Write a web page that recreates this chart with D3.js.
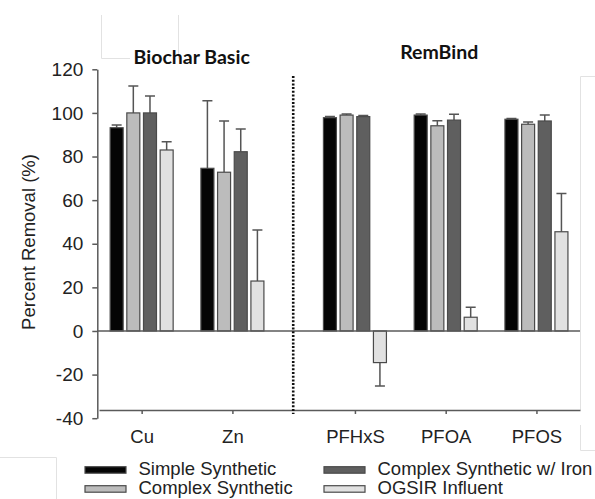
<!DOCTYPE html>
<html>
<head>
<meta charset="utf-8">
<script src="https://cdn.jsdelivr.net/npm/d3@7"></script>
<style>
  body { margin: 0; background: #fff; }
  svg { display: block; }
  .axis path, .axis line { stroke: #5a5a5a; stroke-width: 1.5; }
  .axis text { font-family: "Liberation Sans", Arial, sans-serif; fill: #222; }
</style>
</head>
<body>
<div id="chart"></div>
<script>
/* Percent removal by media and water type, with one-sided error bars. */

var categories = ["Cu", "Zn", "PFHxS", "PFOA", "PFOS"];
var catPositions = [1, 2, 3.35, 4.35, 5.35];
var series = ["Simple Synthetic", "Complex Synthetic", "Complex Synthetic w/ Iron", "OGSIR Influent"];

var simpleVals = [93.2, 74.6, 97.8, 99.0, 97.1];
var simpleErr = [1.3, 31.0, 0.5, 0.5, 0.3];
var complexVals = [100, 72.8, 99.0, 94.1, 94.8];
var complexErr = [12.3, 23.5, 0.5, 2.3, 1.0];
var ironVals = [100, 82.2, 98.3, 96.7, 96.3];
var ironErr = [7.7, 10.4, 0.5, 2.7, 2.7];
var ogsirVals = [83, 22.9, -14.5, 6.3, 45.5];
var ogsirErr = [3.8, 23.4, 10.7, 4.6, 17.6];

var yTicks = [-40, -20, 0, 20, 40, 60, 80, 100, 120];
var groupTitles = ["Biochar Basic", "RemBind"];

var colors = ["#050505", "#bcbcbc", "#5f5f5f", "#e1e1e1"];

var width = 595, height = 499;

var svg = d3.select("#chart").append("svg")
    .attr("width", width)
    .attr("height", height);

svg.append("rect").attr("width", width).attr("height", height).attr("fill", "#fff");

// faint frame remnants from the source image
var faint = svg.append("g").attr("stroke", "#e2e2e2").attr("stroke-width", 1).attr("fill", "none");
faint.append("path").attr("d", "M101.5,15V58.5H130");
faint.append("path").attr("d", "M178.5,15V58.5");
faint.append("path").attr("d", "M595,76.5H580.5V410");
faint.append("path").attr("d", "M580.5,425V450.5H595");
faint.append("path").attr("d", "M0,457.5H56.5V499");

var x = d3.scaleLinear().domain([0.53, 5.83]).range([99, 580]);
var y = d3.scaleLinear().domain([-40, 120]).range([418.2, 69.3]);

var inner = d3.scaleBand().domain(series).range([-31.5, 31.5]).paddingInner(0.22);

var xAxisY = 410;

// Build rows from the arrays
var values = [simpleVals, complexVals, ironVals, ogsirVals];
var errs = [simpleErr, complexErr, ironErr, ogsirErr];
var data = [];
categories.forEach(function(c, i) {
    series.forEach(function(s, j) {
        data.push({cat: c, pos: catPositions[i], s: s, j: j, v: values[j][i], e: errs[j][i]});
    });
});

// Error bars (drawn first so the bar covers the part inside it)
var eb = svg.append("g").attr("stroke", "#555").attr("stroke-width", 1.5).attr("fill", "none");
eb.selectAll("path").data(data).enter().append("path")
    .attr("d", function(d) {
        var cx = x(d.pos) + inner(d.s) + inner.bandwidth() / 2;
        var end = d.v >= 0 ? d.v + d.e : d.v - d.e;
        return "M" + cx + "," + y(d.v) + "V" + y(end) +
            "M" + (cx - 5) + "," + y(end) + "H" + (cx + 5);
    });

// Bars
svg.append("g").selectAll("rect").data(data).enter().append("rect")
    .attr("x", function(d) { return x(d.pos) + inner(d.s); })
    .attr("width", inner.bandwidth())
    .attr("y", function(d) { return y(Math.max(0, d.v)); })
    .attr("height", function(d) { return Math.abs(y(d.v) - y(0)); })
    .attr("fill", function(d) { return colors[d.j]; })
    .attr("stroke", "#4a4a4a")
    .attr("stroke-width", 1.2);

// Zero line
svg.append("line")
    .attr("x1", 97).attr("x2", 580)
    .attr("y1", y(0)).attr("y2", y(0))
    .attr("stroke", "#5a5a5a").attr("stroke-width", 1.5);

// Y axis (plain hyphen for negatives, as in the source)
svg.append("g")
    .attr("class", "axis")
    .attr("transform", "translate(97.3,0)")
    .call(d3.axisLeft(y).tickValues(yTicks).tickSize(5).tickSizeOuter(0).tickPadding(9)
        .tickFormat(function(d) { return String(d); }))
    .selectAll("text").style("font-size", "19px");

// X axis
var xa = svg.append("g")
    .attr("class", "axis")
    .attr("transform", "translate(0," + xAxisY + ")")
    .call(d3.axisBottom(x).tickValues(catPositions)
        .tickFormat(function(d, i) { return categories[i]; })
        .tickSize(4).tickSizeOuter(0).tickPadding(16));
xa.selectAll("text").style("font-size", "18.5px");

// Dotted divider between the two media
svg.append("line")
    .attr("x1", x(2.67)).attr("x2", x(2.67))
    .attr("y1", 76).attr("y2", 414)
    .attr("stroke", "#111").attr("stroke-width", 2.6)
    .attr("stroke-dasharray", "2,1.7");

// Y label
svg.append("text")
    .attr("transform", "translate(35,242) rotate(-90)")
    .attr("text-anchor", "middle")
    .style("font-family", "'Liberation Sans', Arial, sans-serif")
    .style("font-size", "18.5px")
    .attr("fill", "#222")
    .text("Percent Removal (%)");

// Group titles
var titlePos = [{x: 191.7, y: 64}, {x: 439.2, y: 59}];
svg.selectAll(".gtitle").data(groupTitles).enter().append("text")
    .attr("class", "gtitle")
    .attr("x", function(d, i) { return titlePos[i].x; })
    .attr("y", function(d, i) { return titlePos[i].y; })
    .attr("text-anchor", "middle")
    .style("font-family", "Lato, 'Open Sans', sans-serif")
    .style("font-weight", "bold")
    .style("font-size", "19.5px")
    .attr("fill", "#111")
    .text(function(d) { return d; });

// Legend: two columns, two rows
var legendCols = [85, 324], legendRows = [475, 494];
var leg = svg.append("g").selectAll("g").data(series).enter().append("g")
    .attr("transform", function(d, i) {
        return "translate(" + legendCols[Math.floor(i / 2)] + "," + legendRows[i % 2] + ")";
    });
leg.append("rect")
    .attr("x", 0).attr("y", -8.3)
    .attr("width", 41).attr("height", 6.5)
    .attr("fill", function(d, i) { return colors[i]; })
    .attr("stroke", "#4a4a4a").attr("stroke-width", 1.2);
leg.append("text")
    .attr("x", 53.5).attr("y", 0)
    .style("font-family", "'Liberation Sans', Arial, sans-serif")
    .style("font-size", "18.5px")
    .attr("fill", "#222")
    .text(function(d) { return d; });
</script>
</body>
</html>
